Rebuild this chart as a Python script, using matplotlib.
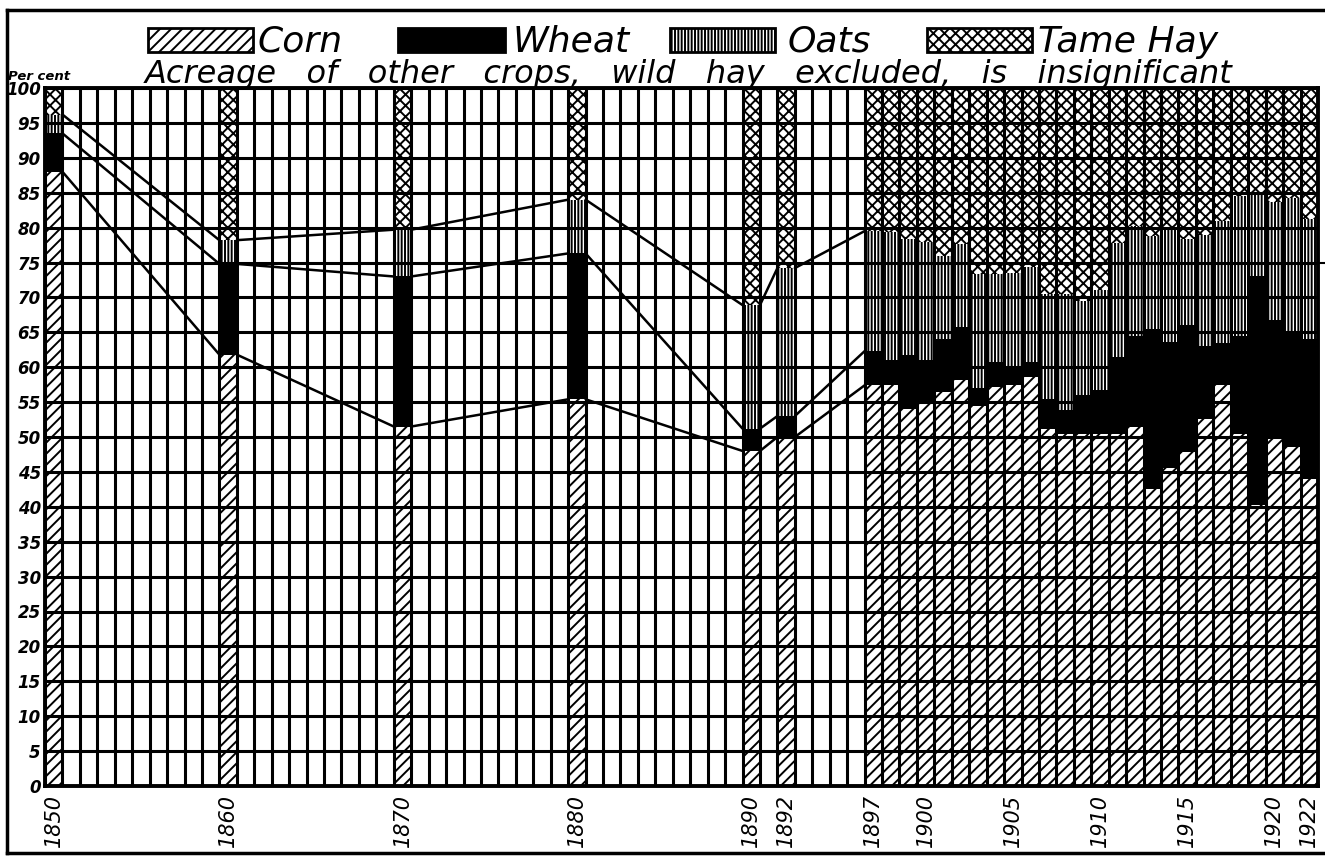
import matplotlib
matplotlib.use("Agg")
import matplotlib.pyplot as plt
from matplotlib.patches import Rectangle
from matplotlib.lines import Line2D
import numpy as np

# ---------------- data (percent of acreage) ----------------
years = [1850, 1860, 1870, 1880, 1890, 1892,
         1897, 1898, 1899, 1900, 1901, 1902, 1903, 1904, 1905, 1906,
         1907, 1908, 1909, 1910, 1911, 1912, 1913, 1914, 1915, 1916,
         1917, 1918, 1919, 1920, 1921, 1922]
corn = [88.0, 61.8, 51.5, 55.4, 48.0, 50.0,
        57.4, 57.4, 54.0, 55.2, 56.4, 58.1, 54.5, 57.1, 57.4, 58.6,
        51.2, 50.5, 50.5, 50.5, 50.5, 51.5, 42.5, 45.5, 47.8, 52.6,
        57.4, 50.5, 40.3, 50.0, 48.5, 44.0]
wheat = [5.5, 13.0, 21.5, 20.9, 3.2, 3.0,
         4.9, 3.6, 7.7, 5.8, 7.6, 7.7, 2.5, 3.6, 2.4, 2.1,
         4.3, 3.3, 5.5, 6.2, 11.0, 13.0, 23.0, 18.1, 18.2, 10.4,
         6.1, 14.0, 32.7, 16.7, 16.7, 20.0]
oats = [2.7, 3.4, 6.7, 7.7, 17.7, 21.2,
        17.2, 18.3, 16.6, 16.9, 12.0, 11.8, 16.4, 12.7, 13.7, 13.6,
        15.0, 16.7, 13.5, 14.3, 16.3, 15.7, 13.3, 16.1, 12.3, 16.0,
        17.5, 20.0, 12.0, 16.9, 19.1, 17.2]
hay = [3.8, 21.8, 20.3, 16.0, 31.1, 25.8,
       20.5, 20.7, 21.7, 22.1, 24.0, 22.4, 26.6, 26.6, 26.5, 25.7,
       29.5, 29.5, 30.5, 29.0, 22.2, 19.8, 21.2, 20.3, 21.7, 21.0,
       19.0, 15.5, 15.0, 16.4, 15.7, 18.8]

census_count = 7  # 1850..1897 joined by lines
xtick_years = [1850, 1860, 1870, 1880, 1890, 1892, 1897, 1900, 1905, 1910, 1915, 1920, 1922]
ytick_vals = list(range(0, 101, 5))
crop_names = ["Corn", "Wheat", "Oats", "Tame Hay"]
subtitle = "Acreage   of   other   crops,   wild   hay   excluded,   is   insignificant"

# ---------------- figure ----------------
W, H = 1325, 857
plt.rcParams['hatch.linewidth'] = 1.4
fig = plt.figure(figsize=(W / 100, H / 100), dpi=100)
fig.patch.set_facecolor('white')

L, R, T, B = 45, 1318, 88, 786
ax = fig.add_axes([L / W, 1 - B / H, (R - L) / W, (B - T) / H])
ax.set_xlim(1850, 1923)
ax.set_ylim(0, 100)

yrs = np.array(years)
c = np.array(corn); w = np.array(wheat); o = np.array(oats); h = np.array(hay)

styles = [
    dict(color='white', hatch='///', edgecolor='black'),
    dict(color='black', edgecolor='black'),
    dict(color='white', hatch='|||||', edgecolor='black'),
    dict(color='white', hatch='xxx', edgecolor='black'),
]
bottom = np.zeros(len(yrs))
for vals, st in zip([c, w, o, h], styles):
    ax.bar(yrs, vals, width=1.0, bottom=bottom, align='edge', linewidth=0, zorder=2, **st)
    bottom = bottom + vals

# grid
ax.vlines(np.arange(1850, 1924), 0, 100, color='black', lw=2.2, zorder=3)
ax.hlines(ytick_vals, 1850, 1923, color='black', lw=2.2, zorder=3)

# connecting lines between census bars
cum1 = c
cum2 = c + w
cum3 = c + w + o
for k in range(census_count - 1):
    x0 = yrs[k] + 1
    x1 = yrs[k + 1]
    for cum in (cum1, cum2, cum3):
        ax.plot([x0, x1], [cum[k], cum[k + 1]], color='black', lw=1.8, zorder=4,
                solid_capstyle='round')

for s in ax.spines.values():
    s.set_linewidth(2.8)
    s.set_zorder(5)

# ticks
ax.set_yticks(ytick_vals)
ax.set_yticklabels([str(v) for v in ytick_vals], fontsize=12, style='italic',
                   fontweight='bold')
ax.tick_params(axis='y', length=0, pad=3)
ax.set_xticks([y + 0.5 for y in xtick_years])
ax.set_xticklabels([str(y) for y in xtick_years], rotation=90, fontsize=15,
                   style='italic', va='top', ha='center')
ax.tick_params(axis='x', length=0, pad=6)

# right-edge mark at 75
ax.plot([1923, 1923.4], [75, 75], color='black', lw=1.5, clip_on=False)

# ---------------- legend / titles ----------------
def fx(px):
    return px / W

def fy(py):
    return 1 - py / H

legend_boxes = [(148, 253), (398, 505), (670, 775), (927, 1032)]
legend_text_x = [257, 513, 788, 1038]
box_top, box_bot = 28, 52
for (x0, x1), tx, name, st in zip(legend_boxes, legend_text_x, crop_names, styles):
    rect = Rectangle((fx(x0), fy(box_bot)), fx(x1) - fx(x0), fy(box_top) - fy(box_bot),
                     transform=fig.transFigure, facecolor=st['color'],
                     hatch=st.get('hatch'), edgecolor='black', linewidth=2.0)
    fig.patches.append(rect)
    fig.text(fx(tx), fy(box_bot), name, fontsize=26, style='italic',
             ha='left', va='baseline')

fig.text(fx(145), fy(83), subtitle, fontsize=23, style='italic', ha='left',
         va='baseline')
fig.text(fx(8), fy(80), "Per cent", fontsize=9.5, style='italic', fontweight='bold',
         ha='left', va='baseline')

# outer frame
for (xa, ya, xb, yb) in [(7, 10, 1325, 10), (7, 10, 7, 853), (7, 853, 1325, 853)]:
    fig.lines.append(Line2D([fx(xa), fx(xb)], [fy(ya), fy(yb)], transform=fig.transFigure,
                            color='black', lw=2.5))

fig.savefig("out.png", dpi=100, facecolor='white')
